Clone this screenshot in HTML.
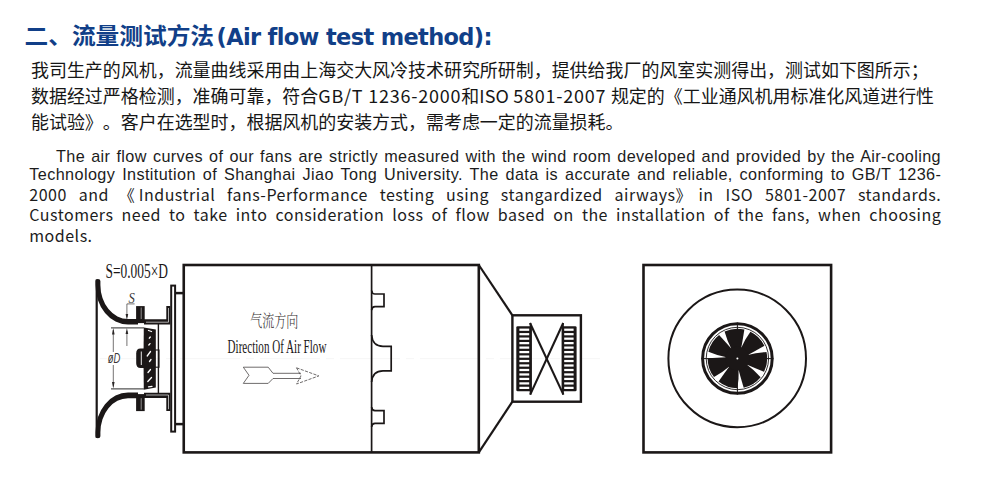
<!DOCTYPE html>
<html lang="zh">
<head>
<meta charset="utf-8">
<title>流量测试方法 Air flow test method</title>
<style>
html,body{margin:0;padding:0;background:#fff;}
body{width:1000px;height:494px;position:relative;overflow:hidden;font-family:"Liberation Sans","Noto Sans CJK SC",sans-serif;color:#1a1a1a;}
.abs{position:absolute;white-space:nowrap;}
h1{position:absolute;left:24.5px;top:20.5px;margin:0;font-size:23.7px;line-height:32px;font-weight:bold;color:#113f88;font-family:"Liberation Sans","Noto Sans CJK SC",sans-serif;white-space:nowrap;}
h1 .zh{display:inline-block;transform:scaleY(0.94);transform-origin:0 15.2px;}
h1 .en{font-family:"DejaVu Sans","Liberation Sans",sans-serif;font-size:22.5px;letter-spacing:-0.65px;margin-left:2.5px;}
.cn{position:absolute;left:31px;width:920px;font-size:17.97px;line-height:26px;height:26px;white-space:nowrap;font-family:"Noto Sans CJK SC","Liberation Sans",sans-serif;color:#161616;text-spacing-trim:space-all;}
.en1,.en2{position:absolute;left:29.3px;width:912px;white-space:nowrap;text-align:justify;text-align-last:justify;color:#1c1c1c;}
.en1{font-family:"Liberation Sans",sans-serif;font-size:16.2px;line-height:18px;height:18px;letter-spacing:0.4px;}
.en2{font-family:"Noto Sans CJK SC","Liberation Sans",sans-serif;font-size:16px;line-height:20px;height:20px;letter-spacing:0.5px;}
svg{position:absolute;left:0;top:0;}
</style>
</head>
<body>
<h1><span class="zh">二、流量测试方法</span><span class="en">(Air flow test method):</span></h1>
<div class="cn" style="top:55.9px">我司生产的风机，流量曲线采用由上海交大风冷技术研究所研制，提供给我厂的风室实测得出，测试如下图所示；</div>
<div class="cn" style="top:81.9px">数据经过严格检测，准确可靠，符合<span style="letter-spacing:0.79px">GB/T 1236-2000</span>和<span style="letter-spacing:0.2px">ISO </span><span style="letter-spacing:0.76px">5801-2007 </span>规定的《工业通风机用标准化风道进行性</div>
<div class="cn" style="top:108px">能试验》。客户在选型时，根据风机的安装方式，需考虑一定的流量损耗。</div>

<div class="en1" style="top:147px;left:56px;width:885px">The air flow curves of our fans are strictly measured with the wind room developed and provided by the Air-cooling</div>
<div class="en1" style="top:165.2px">Technology Institution of Shanghai Jiao Tong University. The data is accurate and reliable, conforming to GB/T 1236-</div>
<div class="en2" style="top:183.5px">2000 and <span style="display:inline-block;width:16px;margin-right:4px;margin-left:-2px;letter-spacing:0;text-align:left;text-align-last:left">《</span>Industrial fans-Performance testing using stangardized airways<span style="display:inline-block;width:11px;letter-spacing:0;text-align:left;text-align-last:left">》</span> in ISO 5801-2007 standards.</div>
<div class="en2" style="top:204.4px">Customers need to take into consideration loss of flow based on the installation of the fans, when choosing</div>
<div class="en2" style="top:225px;text-align-last:left;">models.</div>

<svg width="1000" height="494" viewBox="0 0 1000 494">
<g fill="none" stroke="#1b1717" stroke-linejoin="miter">
<line x1="100" y1="358.6" x2="600" y2="358.6" stroke="#f4f4f4" stroke-width="0.8" stroke-dasharray="60 6 8 6"/>
<!-- main chamber -->
<rect x="183.75" y="265" width="295.05" height="187.4" stroke-width="2.6"/>
<line x1="371.6" y1="265" x2="371.6" y2="452.4" stroke-width="1.7"/>
<path d="M371.6,290.5 Q372,294 375,294 L384,294 L384,306.7 L375,306.7 Q372,306.7 371.6,310.2" stroke-width="1.7"/>
<path d="M371.6,407.1 Q372,410.6 375,410.6 L384,410.6 L384,423.3 L375,423.3 Q372,423.3 371.6,426.8" stroke-width="1.7"/>
<path d="M371.6,335 Q372.5,346.3 383,346.3 L391.2,346.3 L391.2,370.8 L383,370.8 Q372.5,370.8 371.6,382" stroke-width="1.7"/>
<!-- cone -->
<line x1="478.8" y1="265" x2="512.4" y2="315.3" stroke-width="2.2"/>
<line x1="478.8" y1="452.4" x2="512.4" y2="401.7" stroke-width="2.2"/>
<rect x="512.4" y="315.3" width="68.5" height="86.4" stroke-width="2.4"/>
<line x1="530" y1="323" x2="563.4" y2="394.6" stroke-width="2.1"/>
<line x1="563.2" y1="323" x2="530.2" y2="394.6" stroke-width="2.1"/>
<line x1="530.5" y1="323" x2="530.5" y2="394.6" stroke-width="1.6"/>
<line x1="563" y1="323" x2="563" y2="394.6" stroke-width="1.6"/>
</g>
<rect x="516.3" y="326.2" width="15.6" height="65.1" rx="1.4" fill="#1b1717"/>
<rect x="519.4" y="328.60" width="9.8" height="2.24" fill="#fff"/>
<rect x="519.4" y="333.07" width="9.8" height="2.24" fill="#fff"/>
<rect x="519.4" y="337.55" width="9.8" height="2.24" fill="#fff"/>
<rect x="519.4" y="342.02" width="9.8" height="2.24" fill="#fff"/>
<rect x="519.4" y="346.50" width="9.8" height="2.24" fill="#fff"/>
<rect x="519.4" y="350.97" width="9.8" height="2.24" fill="#fff"/>
<rect x="519.4" y="355.44" width="9.8" height="2.24" fill="#fff"/>
<rect x="519.4" y="359.92" width="9.8" height="2.24" fill="#fff"/>
<rect x="519.4" y="364.39" width="9.8" height="2.24" fill="#fff"/>
<rect x="519.4" y="368.87" width="9.8" height="2.24" fill="#fff"/>
<rect x="519.4" y="373.34" width="9.8" height="2.24" fill="#fff"/>
<rect x="519.4" y="377.81" width="9.8" height="2.24" fill="#fff"/>
<rect x="519.4" y="382.29" width="9.8" height="2.24" fill="#fff"/>
<rect x="519.4" y="386.76" width="9.8" height="2.24" fill="#fff"/>
<rect x="561.6" y="326.2" width="15" height="65.1" rx="1.4" fill="#1b1717"/>
<rect x="564.2" y="328.60" width="9.4" height="2.24" fill="#fff"/>
<rect x="564.2" y="333.07" width="9.4" height="2.24" fill="#fff"/>
<rect x="564.2" y="337.55" width="9.4" height="2.24" fill="#fff"/>
<rect x="564.2" y="342.02" width="9.4" height="2.24" fill="#fff"/>
<rect x="564.2" y="346.50" width="9.4" height="2.24" fill="#fff"/>
<rect x="564.2" y="350.97" width="9.4" height="2.24" fill="#fff"/>
<rect x="564.2" y="355.44" width="9.4" height="2.24" fill="#fff"/>
<rect x="564.2" y="359.92" width="9.4" height="2.24" fill="#fff"/>
<rect x="564.2" y="364.39" width="9.4" height="2.24" fill="#fff"/>
<rect x="564.2" y="368.87" width="9.4" height="2.24" fill="#fff"/>
<rect x="564.2" y="373.34" width="9.4" height="2.24" fill="#fff"/>
<rect x="564.2" y="377.81" width="9.4" height="2.24" fill="#fff"/>
<rect x="564.2" y="382.29" width="9.4" height="2.24" fill="#fff"/>
<rect x="564.2" y="386.76" width="9.4" height="2.24" fill="#fff"/>
<!-- front view -->
<g fill="none" stroke="#1b1717">
<rect x="643.5" y="265" width="187.6" height="187.4" stroke-width="2.6"/>
<circle cx="737.2" cy="358.4" r="68.8" stroke-width="2"/>
<circle cx="737.4" cy="358.5" r="34.8" stroke-width="3"/>
<circle cx="737.4" cy="358.5" r="31.2" stroke-width="0.9"/>
<line x1="701.4" y1="358.6" x2="773.4" y2="358.6" stroke-width="1"/>
<line x1="737.4" y1="322.6" x2="737.4" y2="394.6" stroke-width="1"/>
</g>
<path d="M731.57,349.17 Q727.25,341.27 724.57,331.60 A29.8,29.8 0 0 1 744.36,329.52 Q742.91,339.27 741.16,348.16 Z" fill="#1b1717"/>
<path d="M741.06,348.13 Q744.54,339.82 750.43,331.70 A29.8,29.8 0 0 1 764.39,345.87 Q755.87,350.82 747.83,355.00 Z" fill="#1b1717"/>
<path d="M747.79,354.89 Q756.46,352.44 766.48,351.98 A29.8,29.8 0 0 1 764.10,371.73 Q754.92,368.15 746.64,364.47 Z" fill="#1b1717"/>
<path d="M746.70,364.38 Q754.02,369.62 760.63,377.17 A29.8,29.8 0 0 1 743.70,387.63 Q740.77,378.21 738.50,369.45 Z" fill="#1b1717"/>
<path d="M738.60,369.43 Q739.07,378.43 737.29,388.30 A29.8,29.8 0 0 1 718.56,381.59 Q724.09,373.43 729.53,366.18 Z" fill="#1b1717"/>
<path d="M729.60,366.26 Q722.86,372.23 714.03,376.99 A29.8,29.8 0 0 1 707.60,358.17 Q717.43,357.40 726.49,357.13 Z" fill="#1b1717"/>
<path d="M726.47,357.24 Q717.60,355.69 708.37,351.76 A29.8,29.8 0 0 1 719.08,334.99 Q725.81,342.20 731.66,349.11 Z" fill="#1b1717"/>
<circle cx="737.4" cy="358.5" r="12" fill="#1b1717"/>
<circle cx="737.4" cy="358.5" r="1" fill="#fff"/>
<!-- side view of fan -->
<g stroke="#1b1717" fill="none">
<path d="M95.5,281 Q95.5,279 97.9,279 Q100.4,279 100.4,281 L100.4,285 A27.6,34 0 0 0 128,319 L138,319 L138,324.6 L128,324.6 A32.5,39.6 0 0 1 95.5,285 Z" fill="#1b1717" stroke="none"/>
<rect x="136.1" y="306.1" width="8.6" height="17" fill="#1b1717" stroke="none"/>
<line x1="141.2" y1="307.5" x2="141.2" y2="319" stroke="#ddd" stroke-width="0.6"/>
<path d="M144,319.3 L166.3,319.3 L166.3,306.1 L170.4,306.1 L170.4,324.5 L144,324.5 Z" fill="#1b1717" stroke="none"/>
<path d="M146,322.2 L168.5,322.2 L168.5,308" stroke="#eee" stroke-width="0.7"/>
<line x1="176" y1="293.1" x2="183" y2="293.1" stroke-width="2.5"/>
</g>
<g transform="translate(0,717.2) scale(1,-1)" stroke="#1b1717" fill="none">
<path d="M95.5,281 Q95.5,279 97.9,279 Q100.4,279 100.4,281 L100.4,285 A27.6,34 0 0 0 128,319 L138,319 L138,324.6 L128,324.6 A32.5,39.6 0 0 1 95.5,285 Z" fill="#1b1717" stroke="none"/>
<rect x="136.1" y="306.1" width="8.6" height="17" fill="#1b1717" stroke="none"/>
<line x1="141.2" y1="307.5" x2="141.2" y2="319" stroke="#ddd" stroke-width="0.6"/>
<path d="M144,319.3 L166.3,319.3 L166.3,306.1 L170.4,306.1 L170.4,324.5 L144,324.5 Z" fill="#1b1717" stroke="none"/>
<path d="M146,322.2 L168.5,322.2 L168.5,308" stroke="#eee" stroke-width="0.7"/>
<line x1="176" y1="293.1" x2="183" y2="293.1" stroke-width="2.5"/>
</g>
<g stroke="#1b1717" fill="none">
<line x1="96.7" y1="279.5" x2="96.7" y2="437.8" stroke-width="2.2"/>
<rect x="171.2" y="285.6" width="3.9" height="146" stroke-width="2"/>
<line x1="158.4" y1="324" x2="158.4" y2="393" stroke-width="1.4"/>
<rect x="154.8" y="350" width="4.2" height="17.2" stroke-width="1.1"/>
</g>
<!-- impeller -->
<path d="M143.8,327.5 L155.8,329.6 L155.8,387.6 L143.8,389.7 Q143.2,358.6 143.8,327.5 Z" fill="#1b1717"/>
<path d="M140.5,348.4 L144.5,348.4 L144.5,368 L140.5,368 Q136.2,368 136.2,363 L136.2,353.4 Q136.2,348.4 140.5,348.4 Z" fill="#1b1717"/>
<line x1="141.3" y1="351.5" x2="141.3" y2="365" stroke="#fff" stroke-width="0.9"/>
<g stroke="#fff" stroke-width="1.3" stroke-linecap="round">
<line x1="148.5" y1="330.5" x2="151.5" y2="331.5"/>
<line x1="149.3" y1="338.2" x2="150.3" y2="337"/>
<line x1="148.8" y1="345" x2="150" y2="343.6"/>
<line x1="147.2" y1="356" x2="150.5" y2="351.5"/>
<line x1="149.5" y1="361.5" x2="151" y2="359.5"/>
<line x1="148" y1="372.5" x2="150.5" y2="369.5"/>
<line x1="147.8" y1="381.5" x2="151.5" y2="377.5"/>
<line x1="148.5" y1="386.8" x2="152" y2="386.4"/>
</g>
<!-- dimension lines -->
<g stroke="#3a3636" stroke-width="0.7" fill="none">
<line x1="111" y1="327.9" x2="144" y2="327.9" stroke-width="1.1" stroke="#555"/>
<line x1="111" y1="388.9" x2="144" y2="388.9" stroke-width="1.1" stroke="#555"/>
<line x1="113.3" y1="330" x2="113.3" y2="386.5"/>
<line x1="126.9" y1="303.9" x2="126.9" y2="317"/>
<line x1="126.9" y1="331" x2="126.9" y2="346"/>
<line x1="126.9" y1="303.9" x2="134.6" y2="303.9"/>
</g>
<g fill="#2a2626">
<path d="M113.3,328 L114.6,334.5 L112,334.5 Z"/>
<path d="M113.3,388.6 L114.6,382.1 L112,382.1 Z"/>
<path d="M126.9,320 L128.2,314 L125.6,314 Z"/>
<path d="M126.9,328 L128.2,334 L125.6,334 Z"/>
</g>
<!-- arrow -->
<g stroke="#4a4646" stroke-width="0.8" fill="none">
<path d="M273,373.3 L268.2,367.2 L243.3,367.2 L249,375.3 L243.3,383.4 L268.2,383.4 L273,378.5"/>
<line x1="273" y1="373.3" x2="301" y2="373.3"/>
<line x1="273" y1="378.5" x2="301" y2="378.5"/>
<path d="M296.5,367.8 L318.8,375.9 L296.5,384 L301,375.9 Z" stroke-dasharray="3.2 1.3"/>
</g>
<!-- labels -->
<g font-family="'Liberation Serif','Noto Serif CJK SC',serif" fill="#1b1717">
<text x="105.5" y="277.8" font-size="20" textLength="62.5" lengthAdjust="spacingAndGlyphs">S=0.005×D</text>
<text x="227.6" y="353" font-size="19.2" textLength="98.8" lengthAdjust="spacingAndGlyphs">Direction Of Air Flow</text>
<text x="250.2" y="327.2" font-size="17" font-weight="300" fill="#3a3636" textLength="48" lengthAdjust="spacingAndGlyphs">气流方向</text>
<text x="128.4" y="302.9" font-size="14.6" font-style="italic" fill="#3a3636" textLength="6.3" lengthAdjust="spacingAndGlyphs">S</text>
<rect x="107" y="352" width="14" height="13" fill="#fff"/><text x="107.8" y="363.4" font-size="14" font-style="italic" font-family="'Liberation Sans',sans-serif" fill="#3a3636" textLength="12.6" lengthAdjust="spacingAndGlyphs">øD</text>
</g>
</svg>
</body>
</html>
